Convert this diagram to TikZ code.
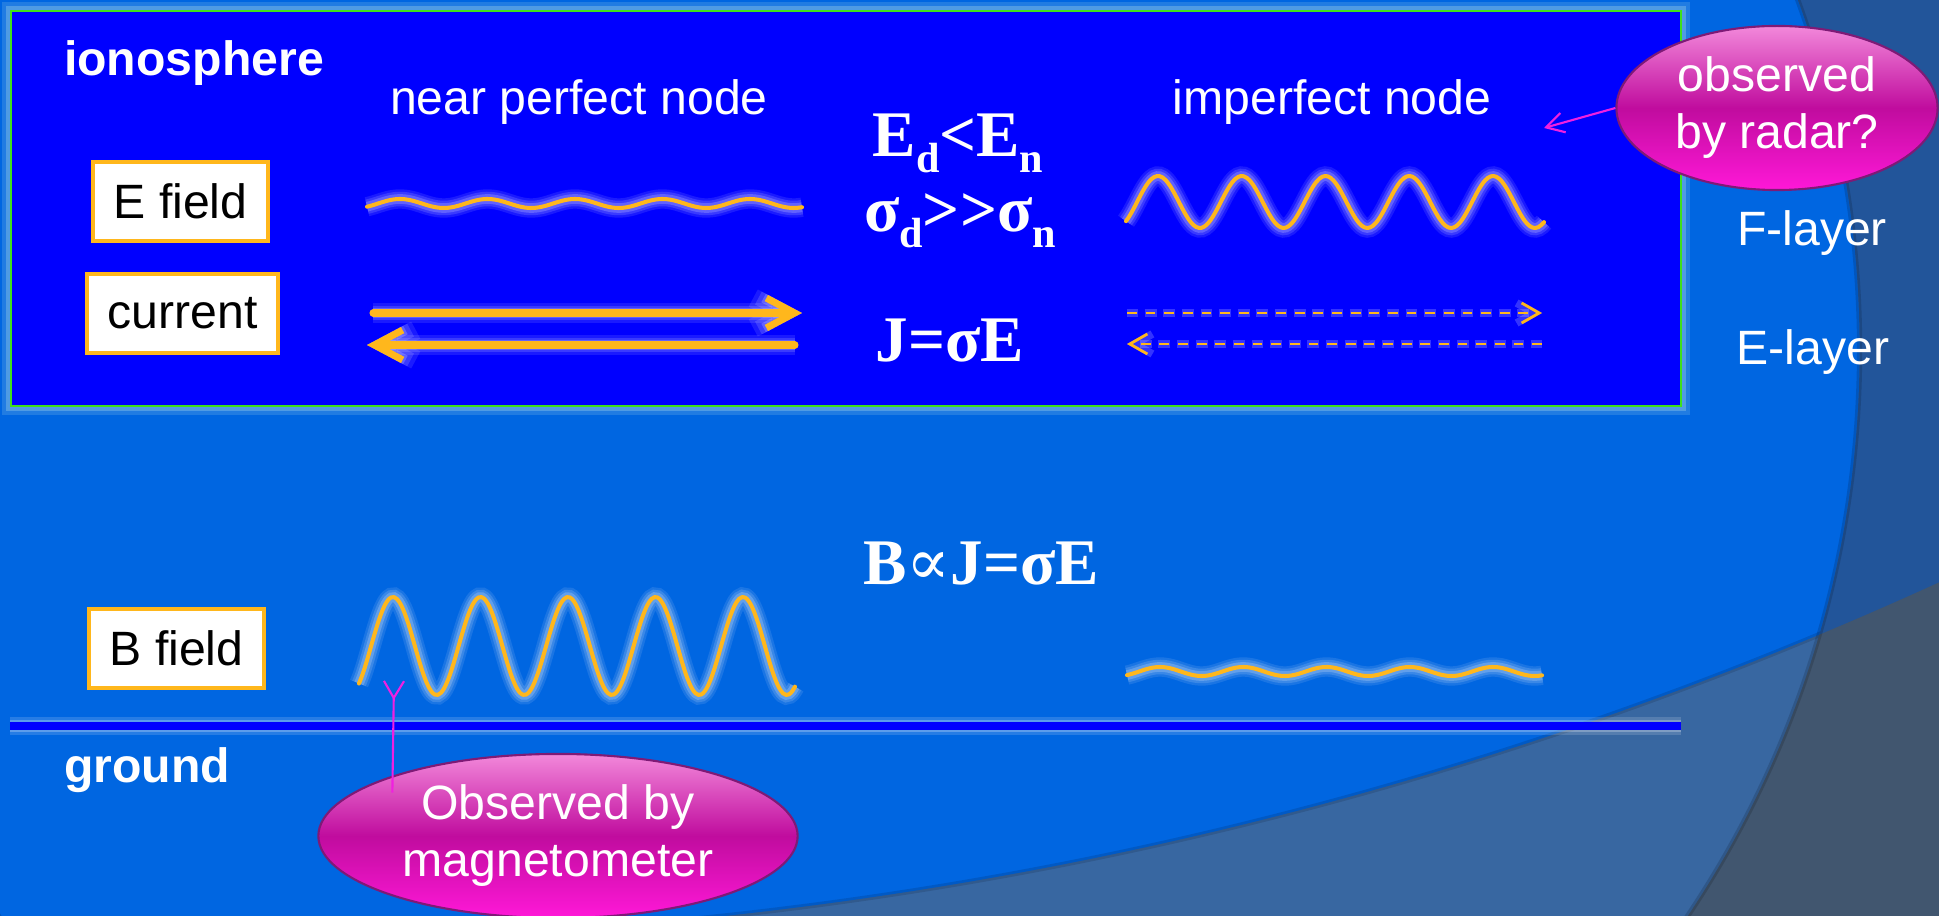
\documentclass[tikz,border=0pt]{standalone}
\usepackage{fontspec}
\setmainfont{Liberation Sans}
\newfontfamily\tnr{Liberation Serif}
\newfontfamily\dvs{DejaVu Serif}
\usepackage{tikz}
\usetikzlibrary{arrows.meta,shapes.geometric}
\definecolor{ora}{HTML}{FFB71C}
\definecolor{ionoblue}{HTML}{0000FF}
\definecolor{limeedge}{HTML}{3FE01A}
\definecolor{halo}{HTML}{A6D6EA}
\definecolor{brightbg}{HTML}{0066E1}
\definecolor{steel}{HTML}{3867A1}
\definecolor{topdark}{HTML}{22559A}
\definecolor{slate}{HTML}{41566F}
\definecolor{bubtop}{HTML}{F288DA}
\definecolor{bubmid}{HTML}{C00C9E}
\definecolor{bubbot}{HTML}{FF18D8}
\definecolor{bubedge}{HTML}{7E1A76}
\definecolor{pinkline}{HTML}{F020E0}
\newcommand{\sbs}[1]{\raisebox{-4.3pt}{\fontsize{12}{12}\selectfont #1}}
\tikzset{wt/.style={text=white,font=\fontsize{13.7}{16.2}\selectfont,inner sep=0pt}}
\tikzset{bfwt/.style={text=white,font=\fontsize{13.7}{16.2}\selectfont\bfseries,inner sep=0pt}}
\tikzset{frm/.style={text=white,font=\tnr\bfseries\fontsize{18.5}{20}\selectfont,inner sep=0pt}}
\tikzset{lbl/.style={draw=ora,line width=0.9pt,fill=white,text=black,font=\fontsize{13.7}{16.2}\selectfont,minimum width=1.75cm,minimum height=0.79cm,inner sep=0pt}}
\tikzset{bub/.style={ellipse,draw=bubedge,line width=0.6pt,top color=bubtop,bottom color=bubbot,middle color=bubmid,text=white,align=center,inner sep=0pt,minimum height=1.64cm,font=\fontsize{13.7}{16.2}\selectfont}}
\tikzset{glow/.style={preaction={draw=white,opacity=.1,line width=#1},preaction={draw=white,opacity=.14,line width=0.75*#1},preaction={draw=white,opacity=.2,line width=0.5*#1}}}
\tikzset{wave/.style={draw=ora,line width=1.15pt,line cap=round,line join=round,glow=5.5pt}}
\tikzset{cur/.style={draw=ora,line width=2pt,line cap=round,line join=round,glow=5.5pt,-{Straight Barb[length=8pt,width=8.5pt]}}}
\tikzset{weak/.style={draw=ora,line width=0.8pt,dash pattern=on 2.8pt off 2.5pt,preaction={draw=white,opacity=.2,line width=2.2pt,dash pattern=on 3.4pt off 1.9pt,dash phase=0.3pt},-{Straight Barb[length=5pt,width=5.7pt]}}}
\tikzset{ptr/.style={draw=pinkline,line width=0.6pt}}

\begin{document}
\begin{tikzpicture}[x=0.01cm,y=-0.01cm]
\useasboundingbox (0,0) rectangle (1939,916);
% slide background
\fill[slate] (0,0) rectangle (1939,916);
\begin{scope}
\clip (0,0) rectangle (1939,916);
\fill[topdark] (292,-3027) circle[radius=39.64cm];
\fill[steel] (843,350) circle[radius=10.16cm];
\begin{scope}
\clip (843,350) circle[radius=10.16cm];
\fill[brightbg] (292,-3027) circle[radius=39.64cm];
\draw[black,opacity=.12,line width=1.5pt] (292,-3027) circle[radius=39.64cm];
\end{scope}
\draw[black,opacity=.15,line width=1.5pt] (843,350) circle[radius=10.16cm];
\end{scope}

% ionosphere box
\draw[halo,opacity=.2,line width=5pt] (11,11) rectangle (1681,406);
\draw[halo,opacity=.35,line width=3pt] (11,11) rectangle (1681,406);
\filldraw[fill=ionoblue,draw=limeedge,line width=0.6pt] (11,11) rectangle (1681,406);

% ground
\draw[white,opacity=.15,line width=5pt] (10,726) -- (1681,726);
\draw[white,opacity=.25,line width=3.5pt] (10,726) -- (1681,726);
\draw[ionoblue,line width=2.2pt] (10,726) -- (1681,726);

% waves
\draw[wave] plot[domain=367:802,samples=150,smooth] (\x,{203.5-4.5*cos((\x-400)*4.1143)});
\draw[wave] plot[domain=1126:1544,samples=150,smooth] (\x,{202-26*cos((\x-1158)*4.2985)});
\draw[wave] plot[domain=359:795,samples=150,smooth] (\x,{646-49*cos((\x-393)*4.1143)});
\draw[wave] plot[domain=1127:1542,samples=150,smooth] (\x,{671.5-4.5*cos((\x-1160)*4.3243)});

% currents
\draw[cur] (373,313) -- (802,313);
\draw[cur] (795,345) -- (367,345);
\draw[weak] (1127,313) -- (1542,313);
\draw[weak] (1542,344) -- (1127,344);

% texts
\node[bfwt,anchor=base] (iono) at (194,76) {ionosphere};
\node[wt,anchor=base] (nearp) at (579,115) {near perfect node};
\node[wt,anchor=base] (imperf) at (1332,115) {imperfect node};
\node[bfwt,anchor=base] (gnd) at (147,783) {ground};
\node[wt,anchor=base] (flayer) at (1812,246) {F-layer};
\node[wt,anchor=base] (elayer) at (1813,365) {E-layer};
\node[lbl] (efield) at (180.5,201.5) {E field};
\node[lbl,minimum width=1.91cm] (curr) at (182.5,313.5) {current};
\node[lbl] (bfield) at (176.5,648.5) {B field};
\node[frm,anchor=base] (econd) at (958,157) {E\sbs{d}<E\sbs{n}};
\node[frm,anchor=base] (scond) at (960,232) {σ\sbs{d}>>σ\sbs{n}};
\node[frm,anchor=base] (ohm) at (950,362) {J=σE};
\node[frm,anchor=base] (bprop) at (981,585) {B{\dvs\mdseries∝}J=σE};

% callouts
\node[bub,minimum width=3.21cm] (radar) at (1777,108) {observed\\by radar?};
\node[bub,minimum width=4.79cm] (magn) at (558,836) {Observed by\\magnetometer};
\coordinate (radtip) at (1544,128);
\coordinate (magtop) at (394,680);
\draw[ptr,-{Straight Barb[length=5pt,width=5.7pt]}] (radar.west) -- (radtip);
\draw[ptr,-{Straight Barb[reversed,length=4.8pt,width=5.7pt]}] ([yshift=-0.17cm]magn.160) -- (magtop);
\end{tikzpicture}
\end{document}
